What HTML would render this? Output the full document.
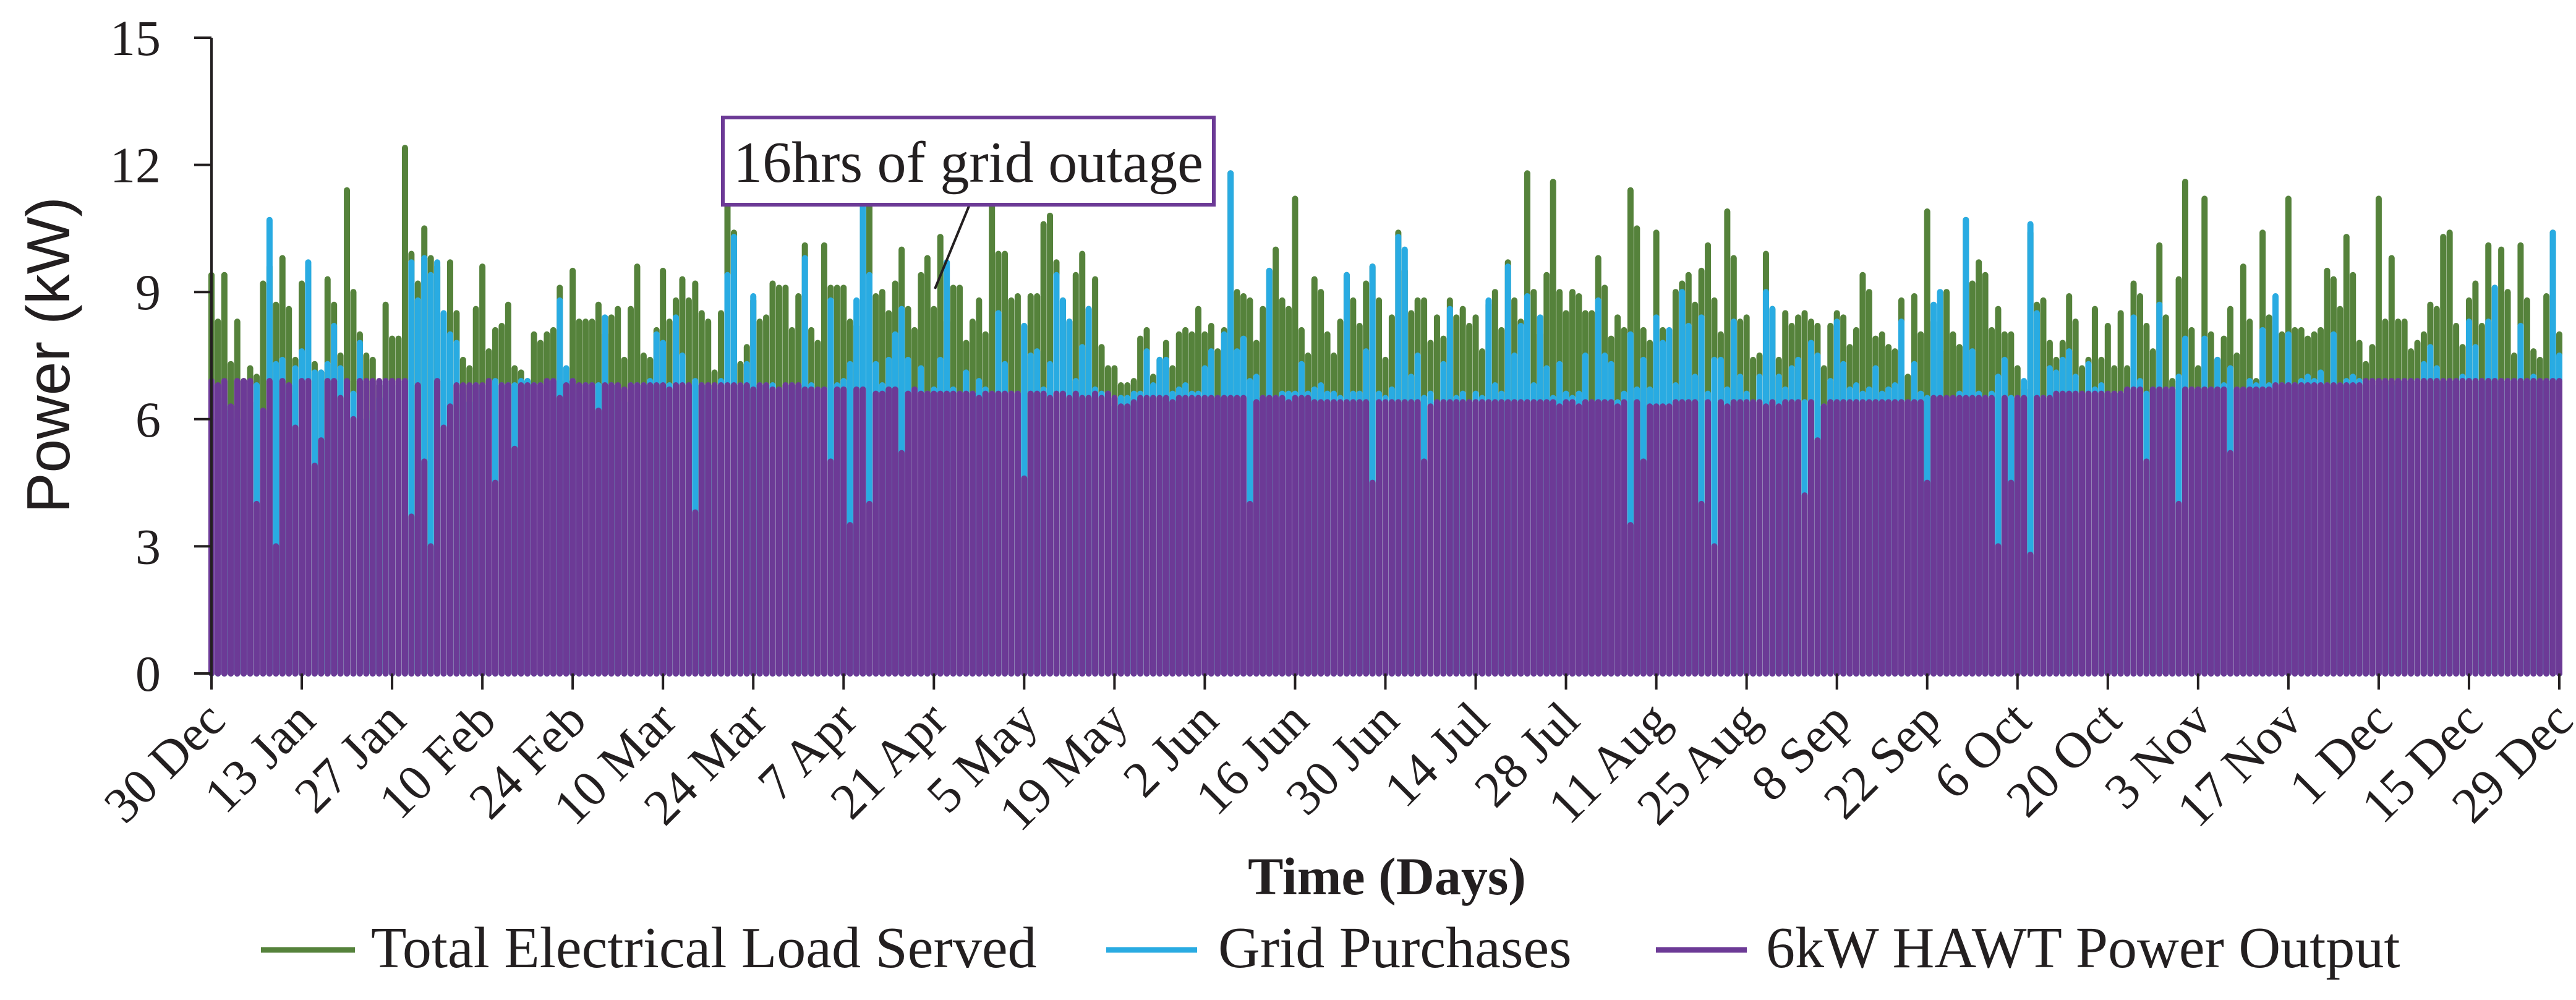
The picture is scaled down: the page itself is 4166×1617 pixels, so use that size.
<!DOCTYPE html>
<html>
<head>
<meta charset="utf-8">
<style>
  html, body { margin: 0; padding: 0; background: #ffffff; }
  body { width: 4166px; height: 1612px; overflow: hidden; }
  svg text { font-family: "Liberation Serif", serif; fill: #231f20; }
</style>
</head>
<body>
<svg id="chart" width="4166" height="1612" viewBox="0 0 4166 1612" xmlns="http://www.w3.org/2000/svg">
  <g id="series-load"></g>
  <g id="series-grid"></g>
  <g id="series-wind"></g>
  <g id="y-axis"></g>
  <g id="x-axis"></g>
  <text x="0" y="0" transform="translate(112,574) rotate(-90)" text-anchor="middle" style="font-family:'Liberation Sans',sans-serif;font-size:98px;">Power (kW)</text>
  <text x="2243" y="1446" text-anchor="middle" style="font-size:86px;font-weight:bold;">Time (Days)</text>

  <g>
    <line x1="1568" y1="331" x2="1512" y2="467" stroke="#231f20" stroke-width="4"/>
    <rect x="1169" y="190" width="794" height="141" fill="#ffffff" stroke="#6c3a96" stroke-width="6"/>
    <text x="1566" y="294" text-anchor="middle" style="font-size:94px;">16hrs of grid outage</text>
  </g>

  <g>
    <g>
      <line x1="422" y1="1536" x2="574" y2="1536" stroke="#55823b" stroke-width="9"/>
      <text x="600" y="1564" style="font-size:94px;">Total Electrical Load Served</text>
    </g>
    <g>
      <line x1="1789" y1="1536" x2="1936" y2="1536" stroke="#29abe2" stroke-width="9"/>
      <text x="1970" y="1564" style="font-size:94px;">Grid Purchases</text>
    </g>
    <g>
      <line x1="2678" y1="1536" x2="2825" y2="1536" stroke="#6c3a96" stroke-width="9"/>
      <text x="2856" y="1564" style="font-size:94px;">6kW HAWT Power Output</text>
    </g>
  </g>
</svg>
<script>
const loadPeak = [
9.4,8.3,9.4,7.3,8.3,6.9,7.2,7.0,9.2,9.6,8.7,9.8,8.6,7.4,
9.2,9.6,7.3,7.1,9.3,8.7,7.5,11.4,9.0,8.0,7.5,7.4,6.8,8.7,
7.9,7.9,12.4,9.9,9.2,10.5,9.8,9.6,8.1,9.7,8.5,7.4,7.2,8.6,
9.6,7.6,8.1,8.2,8.7,7.2,7.1,6.9,8.0,7.8,8.0,8.1,9.1,6.9,
9.5,8.3,8.3,8.3,8.7,8.0,8.4,8.6,7.4,8.6,9.6,7.5,7.4,8.1,
9.5,8.3,8.8,9.3,8.8,9.2,8.5,8.3,7.1,8.5,11.4,10.4,7.3,7.7,
8.8,8.3,8.4,9.2,9.1,9.1,8.1,8.9,10.1,8.1,7.8,10.1,9.1,9.1,
9.1,8.3,8.2,11.2,11.2,8.9,9.0,8.5,9.2,10.0,8.6,8.1,9.4,9.8,
8.6,10.3,8.3,9.1,9.1,7.8,8.3,8.8,8.0,11.6,9.9,9.9,8.8,8.9,
8.2,8.9,8.9,10.6,10.8,9.7,8.8,8.3,9.4,9.9,8.6,9.3,7.7,7.2,
7.2,6.8,6.8,6.9,7.9,8.1,7.0,7.4,7.8,7.2,8.0,8.1,8.0,8.6,
8.0,8.2,7.6,8.1,11.8,9.0,8.9,8.8,7.8,8.6,9.5,10.0,8.8,8.6,
11.2,8.1,7.5,9.3,9.0,8.0,7.5,8.3,9.4,8.8,8.2,9.2,9.6,8.8,
7.4,8.4,10.4,9.5,8.5,8.8,8.8,7.8,8.4,7.9,8.8,8.4,8.6,8.2,
8.4,7.6,8.7,9.0,8.1,9.7,8.8,8.3,11.8,9.0,8.0,9.4,11.6,9.0,
8.5,9.0,8.9,8.5,8.5,9.8,9.1,7.9,8.4,8.1,11.4,10.5,8.1,7.8,
10.4,8.1,8.0,9.0,9.2,9.4,8.7,9.5,10.1,8.8,8.0,10.9,9.8,8.3,
8.4,7.4,7.5,9.9,8.6,7.4,8.5,8.2,8.4,8.5,8.3,8.2,7.2,8.2,
8.5,8.4,7.7,8.1,9.4,9.0,7.9,8.0,7.7,7.6,8.8,7.0,8.9,8.0,
10.9,8.3,7.6,9.0,8.0,7.7,10.7,9.2,9.7,9.4,8.1,8.6,8.0,8.0,
7.2,6.7,10.4,8.7,8.8,7.8,7.4,7.8,8.9,8.3,7.2,7.4,8.6,7.4,
8.2,7.2,8.5,7.2,9.2,8.9,8.2,7.6,10.1,8.4,6.9,9.3,11.6,8.1,
7.2,11.2,8.0,7.4,7.9,8.6,7.5,9.6,8.3,6.9,10.4,8.4,8.2,8.0,
11.2,8.1,8.1,7.9,8.0,8.1,9.5,9.3,8.6,10.3,9.4,7.8,7.3,7.7,
11.2,8.3,9.8,8.3,8.3,7.6,7.8,8.0,8.7,8.6,10.3,10.4,8.2,7.7,
8.8,9.2,8.2,10.1,9.1,10.0,9.0,7.5,10.1,8.8,7.6,7.4,8.9,10.4,
8.0
];
const gridPeak = [
6.5,6.0,6.5,6.2,6.0,5.5,6.4,6.8,6.0,10.7,7.3,7.4,6.6,7.2,
7.6,9.7,7.1,7.1,7.3,8.2,7.2,6.2,6.6,7.8,6.0,6.2,6.5,6.9,
6.8,6.5,6.9,9.7,8.8,9.8,9.4,9.7,8.5,8.0,7.8,6.6,6.4,6.8,
6.7,6.8,6.9,6.8,6.8,6.8,6.9,6.9,6.8,6.8,6.8,6.9,8.8,7.2,
6.9,6.6,6.8,6.8,6.8,8.4,6.8,6.7,6.4,6.8,6.8,6.8,6.9,8.0,
7.8,6.8,8.4,7.5,6.7,6.9,6.8,6.7,6.7,6.9,9.4,10.3,6.8,7.3,
8.9,6.8,6.8,6.8,6.7,6.7,6.8,6.7,9.8,6.8,6.7,6.7,8.8,6.8,
6.9,7.3,8.8,11.7,9.4,7.3,6.8,7.4,8.0,8.6,7.4,6.6,7.2,6.6,
6.7,7.4,9.7,6.7,6.6,7.1,6.6,6.9,6.7,6.6,8.5,7.3,6.6,6.6,
8.2,7.5,7.6,6.7,7.3,9.4,8.8,8.3,6.9,7.7,8.6,6.7,6.6,6.6,
6.3,6.5,6.5,6.6,6.6,7.6,6.8,7.4,7.4,6.6,6.7,6.8,6.6,6.6,
7.2,7.6,6.5,8.0,11.8,7.6,7.9,6.9,7.0,6.5,9.5,6.5,6.6,6.6,
6.6,7.3,6.6,6.7,6.8,6.6,6.6,6.5,9.4,6.6,6.6,7.6,9.6,6.6,
6.5,6.7,10.3,10.0,7.0,7.5,6.5,6.6,6.4,7.3,8.6,6.5,6.6,6.4,
6.6,6.5,8.8,6.8,6.6,9.6,7.5,8.2,8.9,6.8,8.4,7.2,6.5,7.3,
6.6,6.5,6.6,7.5,6.4,8.8,7.5,7.3,6.4,6.6,8.0,6.7,7.4,6.7,
8.4,7.8,8.1,6.8,9.0,8.2,7.0,8.4,6.6,7.4,7.4,6.7,8.3,7.0,
6.6,6.4,7.0,9.0,8.6,7.0,6.7,7.2,7.4,6.4,7.8,7.5,6.3,6.9,
8.3,7.3,6.7,6.8,6.6,6.7,7.2,6.6,6.7,6.8,8.3,6.4,7.3,6.6,
6.5,8.7,9.0,6.4,6.4,6.6,10.7,7.6,6.6,6.5,6.6,7.0,7.4,6.5,
6.5,6.9,10.6,8.5,6.5,7.2,7.1,7.4,7.6,7.0,6.5,7.3,6.7,6.8,
6.5,6.6,6.6,6.7,8.4,6.9,6.6,6.7,8.7,6.7,6.7,7.0,7.9,6.7,
6.7,7.9,6.7,7.4,6.8,7.2,6.7,6.6,6.9,6.8,8.1,6.8,8.9,6.8,
8.0,6.8,6.9,7.0,6.9,7.1,6.8,8.0,6.8,6.9,7.0,6.9,6.8,6.9,
6.8,6.9,6.8,6.9,6.9,6.9,6.9,7.3,7.7,7.2,6.9,6.9,6.9,7.0,
8.3,7.7,6.9,8.3,9.1,6.9,6.9,6.9,8.2,6.9,7.0,6.9,6.9,10.4,
7.5
];
const windPeak = [
6.9,6.8,6.9,6.3,6.9,6.9,6.9,4.0,6.2,6.9,3.0,6.9,6.8,5.8,
6.9,6.9,4.9,5.5,6.9,6.9,6.5,6.9,6.0,6.9,6.9,6.9,6.9,6.9,
6.9,6.9,6.9,3.7,6.8,5.0,3.0,6.9,5.8,6.3,6.8,6.8,6.8,6.8,
6.8,6.9,4.5,6.8,6.8,5.3,6.8,6.8,6.8,6.8,6.9,6.9,6.5,6.8,
6.9,6.8,6.8,6.8,6.2,6.8,6.8,6.8,6.7,6.8,6.8,6.8,6.8,6.8,
6.8,6.7,6.8,6.8,6.8,3.8,6.8,6.8,6.8,6.8,6.8,6.8,6.8,6.8,
6.7,6.8,6.8,6.7,6.7,6.8,6.8,6.8,6.7,6.7,6.7,6.7,5.0,6.7,
6.7,3.5,6.7,6.7,4.0,6.6,6.6,6.7,6.7,5.2,6.6,6.7,6.6,6.6,
6.6,6.6,6.6,6.6,6.6,6.6,6.6,6.5,6.6,6.6,6.6,6.6,6.6,6.6,
4.6,6.6,6.6,6.6,6.5,6.6,6.6,6.5,6.6,6.5,6.5,6.6,6.5,6.6,
6.5,6.3,6.3,6.4,6.5,6.5,6.5,6.5,6.5,6.4,6.5,6.5,6.5,6.5,
6.5,6.5,6.5,6.5,6.5,6.5,6.5,4.0,6.4,6.5,6.5,6.5,6.5,6.4,
6.5,6.5,6.5,6.4,6.4,6.4,6.4,6.4,6.4,6.4,6.4,6.4,4.5,6.4,
6.4,6.4,6.4,6.4,6.4,6.4,5.0,6.3,6.4,6.4,6.4,6.4,6.4,6.4,
6.4,6.4,6.4,6.4,6.4,6.4,6.4,6.4,6.4,6.4,6.4,6.4,6.4,6.3,
6.4,6.4,6.3,6.4,6.4,6.4,6.4,6.4,6.3,6.4,3.5,6.4,5.0,6.3,
6.3,6.3,6.3,6.4,6.4,6.4,6.4,4.0,6.4,3.0,6.4,6.3,6.4,6.4,
6.4,6.4,6.4,6.3,6.4,6.3,6.4,6.4,6.4,4.2,6.4,5.5,6.3,6.4,
6.4,6.4,6.4,6.4,6.4,6.4,6.4,6.4,6.4,6.4,6.4,6.4,6.4,6.4,
4.5,6.5,6.5,6.5,6.5,6.5,6.5,6.5,6.5,6.5,6.5,3.0,6.5,4.5,
6.5,6.5,2.8,6.5,6.5,6.5,6.6,6.6,6.6,6.6,6.6,6.6,6.6,6.6,
6.6,6.6,6.6,6.7,6.7,6.7,5.0,6.7,6.7,6.7,6.7,4.0,6.7,6.7,
6.7,6.7,6.7,6.7,6.7,5.2,6.7,6.7,6.7,6.7,6.7,6.7,6.8,6.8,
6.8,6.8,6.8,6.8,6.8,6.8,6.8,6.8,6.8,6.8,6.8,6.8,6.9,6.9,
6.9,6.9,6.9,6.9,6.9,6.9,6.9,6.9,6.9,6.9,6.9,6.9,6.9,6.9,
6.9,6.9,6.9,6.9,6.9,6.9,6.9,6.9,6.9,6.9,6.9,6.9,6.9,6.9,
6.9
];
const yTicks = [0, 3, 6, 9, 12, 15];
const xTickLabels = ["30 Dec","13 Jan","27 Jan","10 Feb","24 Feb","10 Mar","24 Mar","7 Apr","21 Apr","5 May","19 May","2 Jun","16 Jun","30 Jun","14 Jul","28 Jul","11 Aug","25 Aug","8 Sep","22 Sep","6 Oct","20 Oct","3 Nov","17 Nov","1 Dec","15 Dec","29 Dec"];
const xTickDays = [0,14,28,42,56,70,84,98,112,126,140,154,168,182,196,210,224,238,252,266,280,294,308,322,336,350,364];

const NS = "http://www.w3.org/2000/svg";
const X0 = 342, X1 = 4139, DAYS = 364;
const Y0 = 1089, Y15 = 61;
function xScale(d) { return X0 + d * (X1 - X0) / DAYS; }
function yScale(v) { return Y0 - v * (Y0 - Y15) / 15; }

function drawSeries(groupId, values, color, nameBase) {
  const g = document.getElementById(groupId);
  values.forEach(function (v, i) {
    const ln = document.createElementNS(NS, "line");
    const x = xScale(i);
    ln.setAttribute("x1", x);
    ln.setAttribute("x2", x);
    ln.setAttribute("y1", yScale(0));
    ln.setAttribute("y2", yScale(v));
    ln.setAttribute("stroke", color);
    ln.setAttribute("stroke-width", "10");
    ln.setAttribute("stroke-linecap", "round");
    
    
    g.appendChild(ln);
  });
}
drawSeries("series-load", loadPeak, "#55823b", "load-spike");
drawSeries("series-grid", gridPeak, "#29abe2", "grid-spike");
drawSeries("series-wind", windPeak, "#6c3a96", "hawt-spike");

// y axis
const ya = document.getElementById("y-axis");
const yl = document.createElementNS(NS, "line");
yl.setAttribute("x1", X0); yl.setAttribute("x2", X0);
yl.setAttribute("y1", Y15); yl.setAttribute("y2", Y0 + 2);
yl.setAttribute("stroke", "#231f20"); yl.setAttribute("stroke-width", "4");


ya.appendChild(yl);
yTicks.forEach(function (t) {
  const tk = document.createElementNS(NS, "line");
  tk.setAttribute("x1", X0 - 28); tk.setAttribute("x2", X0);
  tk.setAttribute("y1", yScale(t)); tk.setAttribute("y2", yScale(t));
  tk.setAttribute("stroke", "#231f20"); tk.setAttribute("stroke-width", "4");
  
  
  ya.appendChild(tk);
  const tx = document.createElementNS(NS, "text");
  tx.setAttribute("x", 260);
  tx.setAttribute("y", yScale(t) + 28);
  tx.setAttribute("text-anchor", "end");
  tx.setAttribute("style", "font-size:82px;");
  tx.textContent = String(t);
  
  
  ya.appendChild(tx);
});

// x axis ticks and labels
const xa = document.getElementById("x-axis");
xTickDays.forEach(function (d, i) {
  const x = xScale(d);
  const tk = document.createElementNS(NS, "line");
  tk.setAttribute("x1", x); tk.setAttribute("x2", x);
  tk.setAttribute("y1", Y0); tk.setAttribute("y2", Y0 + 26);
  tk.setAttribute("stroke", "#231f20"); tk.setAttribute("stroke-width", "4");
  
  
  xa.appendChild(tk);
  const tx = document.createElementNS(NS, "text");
  tx.setAttribute("x", 0);
  tx.setAttribute("y", 0);
  tx.setAttribute("text-anchor", "end");
  tx.setAttribute("transform", "translate(" + (x + 26) + "," + (Y0 + 80) + ") rotate(-45)");
  tx.setAttribute("style", "font-size:82px;");
  tx.textContent = xTickLabels[i];
  
  
  xa.appendChild(tx);
});
</script>
</body>
</html>
